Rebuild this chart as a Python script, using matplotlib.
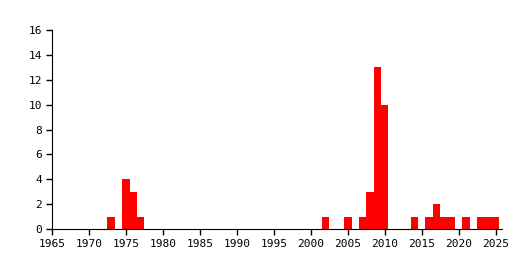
import matplotlib
matplotlib.use("Agg")
import matplotlib.pyplot as plt

years = [1973, 1975, 1976, 1977, 2002, 2005, 2007, 2008, 2009, 2010,
         2014, 2016, 2017, 2018, 2019, 2021, 2023, 2024, 2025]
counts = [1, 4, 3, 1, 1, 1, 1, 3, 13, 10,
          1, 1, 2, 1, 1, 1, 1, 1, 1]
xticks = list(range(1965, 2026, 5))
yticks = list(range(0, 17, 2))

plt.rcParams["font.family"] = ["DejaVu Sans Mono"]
plt.rcParams["font.size"] = 8

fig = plt.figure(figsize=(5.3, 2.7), dpi=100)
ax = fig.add_axes([52 / 530, 1 - 229 / 270, 450 / 530, 199 / 270])

ax.bar(years, counts, width=1.0, color="#ff0000", linewidth=0, antialiased=False)

ax.set_xlim(1965, 2025.85)
ax.set_ylim(0, 16)
ax.set_xticks(xticks)
ax.set_yticks(yticks)
ax.spines["top"].set_visible(False)
ax.spines["right"].set_visible(False)
ax.tick_params(direction="out", length=4, width=1, pad=3)

fig.savefig("out.png", dpi=100)
